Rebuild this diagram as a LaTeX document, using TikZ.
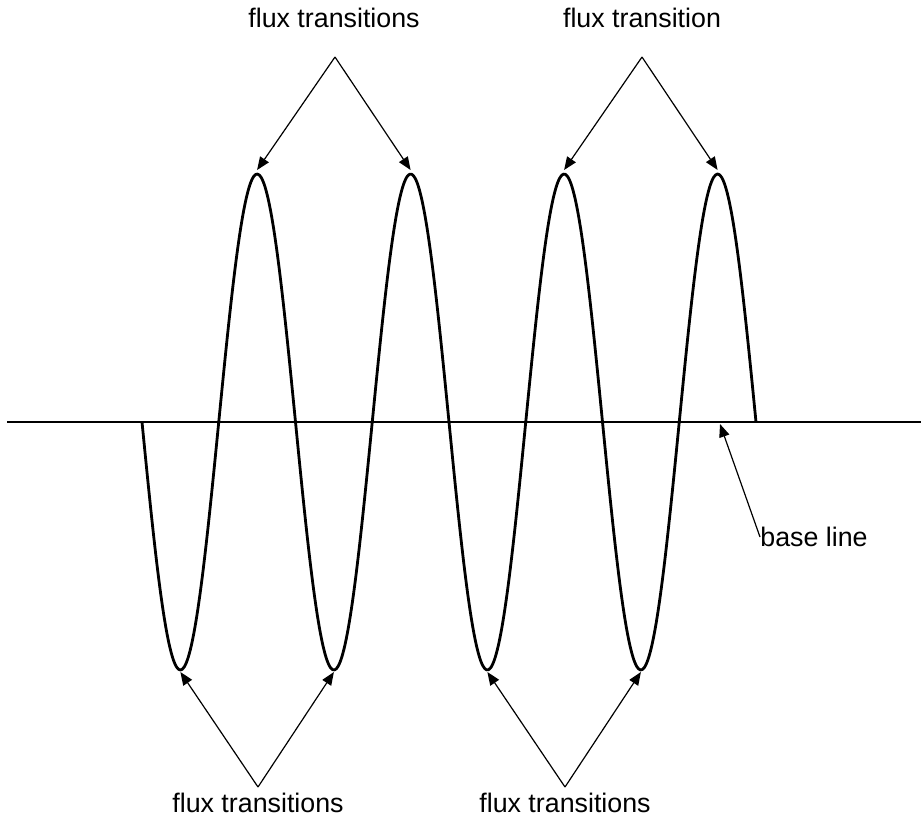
\documentclass[tikz,border=0pt]{standalone}
\usepackage{fontspec}
\setmainfont{Liberation Sans}
\usetikzlibrary{positioning,arrows.meta}

\begin{document}
\begin{tikzpicture}[
  x=0.5pt, y=-0.5pt,
  lbl/.style={inner sep=0pt, font=\fontsize{13.4}{16}\selectfont},
  wave/.style={line width=1.4pt, line join=round},
  pointer/.style={line width=0.6pt, -{Triangle[length=6.5pt,width=5.2pt]}},
  baseln/.style={line width=1.1pt}
]
\useasboundingbox (0,0) rectangle (921,821);

% base line and signal
\coordinate (bl0) at (7,422);
\coordinate (bl1) at (921,422);
\draw[baseln] (bl0) -- (bl1);
\draw[wave] plot[domain=142:756, samples=320, smooth]
  (\x, {422+248*sin((\x-142)/153.5*360)});

% extremes of the signal
\foreach \k in {1,...,4} {
  \coordinate (tr\k) at ({142+38.4+153.5*(\k-1)}, 672);
  \coordinate (pk\k) at ({142+115.1+153.5*(\k-1)}, 170);
}

% labels
\node[lbl] (topA) at (334,18) {flux transitions};
\node[lbl] (topB) at (642,18) {flux transition};
\node[lbl] (botA) at (258,803) {flux transitions};
\node[lbl] (botB) at (565,803) {flux transitions};
\node[lbl, anchor=west] (base) at (760,537) {base line};

\coordinate (apA) at (335,57);
\coordinate (apB) at (642,57);
\coordinate (apC) at (258,787);
\coordinate (apD) at (565,787);
\coordinate (blpt) at (720,424);

\draw[pointer] (apA) -- (pk1);
\draw[pointer] (apA) -- (pk2);
\draw[pointer] (apB) -- (pk3);
\draw[pointer] (apB) -- (pk4);
\draw[pointer] (apC) -- (tr1);
\draw[pointer] (apC) -- (tr2);
\draw[pointer] (apD) -- (tr3);
\draw[pointer] (apD) -- (tr4);
\draw[pointer] (base.west) -- (blpt);
\end{tikzpicture}
\end{document}
